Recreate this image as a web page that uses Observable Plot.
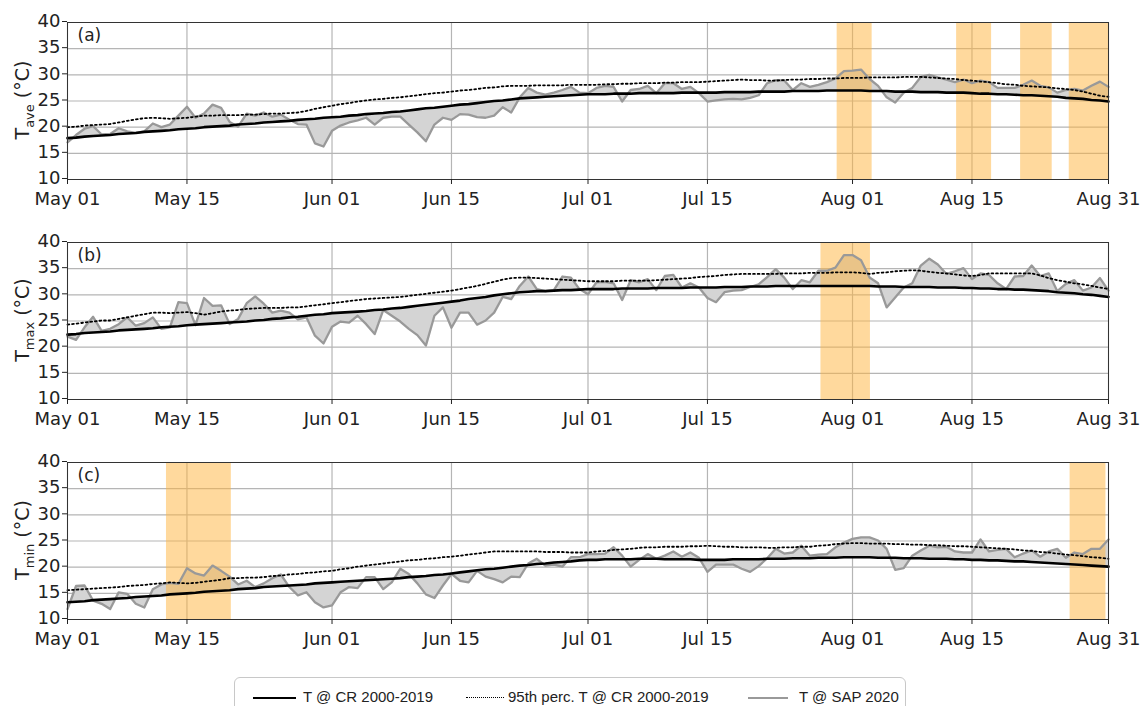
<!DOCTYPE html>
<html><head><meta charset="utf-8">
<script src="https://cdn.jsdelivr.net/npm/d3@7"></script>
<script src="https://cdn.jsdelivr.net/npm/@observablehq/plot@0.6"></script>
<style>
html,body{margin:0;padding:0;background:#fff;}
#wrap{position:relative;width:1144px;height:706px;overflow:hidden;}
#chart svg{display:block;}
.legend{position:absolute;left:234px;top:677px;width:672px;height:40px;border:1px solid #c8c8c8;border-radius:6px;box-sizing:border-box;font-family:"Liberation Sans",Arial,sans-serif;font-size:15px;color:#222;}
.legend .sw{position:absolute;top:19px;height:0;}
.legend .tx{position:absolute;top:10px;white-space:nowrap;}
</style></head><body>
<div id="wrap"><div id="chart"></div>
<div class="legend" id="legend"></div></div>
<script>
// ---------- data (daily, 2020-05-01 .. 2020-08-31) ----------
const startDate = "2020-05-01";
const xTickLabels = ["May 01","May 15","Jun 01","Jun 15","Jul 01","Jul 15","Aug 01","Aug 15","Aug 31"];
const xTickDates = ["2020-05-01","2020-05-15","2020-06-01","2020-06-15","2020-07-01","2020-07-15","2020-08-01","2020-08-15","2020-08-31"];
const yTicks = [10,15,20,25,30,35,40];
const panelLabels = ["(a)","(b)","(c)"];
const ySubscripts = ["ave","max","min"];
const legendLabels = ["T @ CR 2000-2019","95th perc. T @ CR 2000-2019","T @ SAP 2020"];

// (a) T ave
const aveObs = [
 17.1,18.5,19.7,20.2,18.6,18.7,19.8,19.2,18.9,19.2,
 20.7,20.0,20.5,22.2,23.9,21.8,22.6,24.3,23.7,21.0,
 20.1,22.6,22.2,22.8,22.0,22.4,21.4,20.6,20.5,16.9,
 16.3,19.3,20.3,20.9,21.3,21.8,20.5,21.8,22.0,22.0,
 20.5,19.0,17.3,20.5,21.8,21.4,22.5,22.4,21.9,21.8,
 22.2,23.8,22.8,25.7,27.5,26.6,26.2,26.6,27.1,27.7,
 26.6,26.5,27.5,27.9,27.7,24.9,27.1,27.3,27.9,26.5,
 28.4,28.4,27.3,27.7,26.5,24.9,25.1,25.3,25.4,25.3,
 25.6,26.1,28.4,29.0,28.9,27.1,28.4,27.7,28.1,28.6,
 29.3,30.7,30.8,31.0,29.2,27.9,25.7,24.7,26.6,27.5,
 29.6,30.0,29.5,29.1,28.6,29.1,28.4,28.9,28.6,27.5,
 27.5,27.5,28.1,28.9,27.9,27.6,26.6,27.1,27.3,27.0,
 27.9,28.7,27.7];
const aveClim = [
 17.9,18.0,18.2,18.3,18.4,18.5,18.7,18.8,18.9,19.1,19.2,19.3,19.4,19.6,19.7,
 19.8,20.0,20.1,20.2,20.3,20.5,20.6,20.7,20.9,21.0,21.1,21.2,21.4,21.5,21.6,21.8,21.9,
 22.0,22.2,22.3,22.5,22.6,22.7,22.9,23.0,
 23.2,23.4,23.6,23.7,23.9,24.1,
 24.3,24.4,24.6,24.8,25.0,25.1,25.3,25.5,
 25.6,25.7,25.8,25.9,26.0,26.1,26.2,26.3,
 26.3,26.3,26.4,26.4,26.4,26.5,26.5,26.5,26.5,26.5,26.6,26.6,26.6,26.6,
 26.6,26.7,26.7,26.7,26.7,26.8,26.8,26.8,26.8,26.9,26.9,26.9,26.9,27.0,27.0,27.0,27.0,
 27.0,26.9,26.9,26.9,26.8,26.8,26.8,26.7,26.7,26.7,26.6,26.6,26.6,26.5,
 26.4,26.4,26.3,26.3,26.2,26.1,26.1,26.0,
 25.9,25.8,25.6,25.5,25.4,25.2,25.1,24.9];
const aveP95 = [
 20.0,20.1,20.3,20.4,20.5,20.6,20.9,21.2,21.5,21.7,
 21.8,21.7,21.6,21.7,21.8,22.0,22.2,22.2,22.3,22.3,
 22.3,22.4,22.4,22.5,22.6,22.6,22.7,22.8,23.1,23.5,
 23.8,24.1,24.4,24.6,24.9,25.1,25.3,25.4,25.6,25.7,
 25.9,26.1,26.3,26.5,26.6,26.8,27.0,27.1,27.3,27.5,
 27.6,27.8,27.9,27.9,27.9,28.0,28.0,28.0,28.0,28.1,
 28.1,28.1,28.1,28.2,28.2,28.3,28.3,28.4,28.4,28.4,
 28.5,28.5,28.6,28.6,28.6,28.7,28.8,28.9,29.0,29.1,
 29.0,29.0,28.9,28.9,29.0,29.1,29.1,29.2,29.2,29.3,
 29.3,29.4,29.4,29.4,29.5,29.5,29.5,29.5,29.6,29.6,
 29.6,29.5,29.4,29.3,29.2,29.0,28.9,28.7,28.6,28.4,
 28.2,28.1,27.9,27.8,27.7,27.6,27.4,27.3,27.1,26.8,
 26.4,26.0,25.8];
const aveHeatwaves = [[90.2,94.3],[104.2,108.3],[111.7,115.4],[117.4,122]];

// (b) T max
const maxObs = [
 22.0,21.4,23.8,25.8,23.1,23.5,24.4,25.7,24.1,24.6,
 25.7,23.5,23.8,28.6,28.4,24.2,29.4,27.9,28.0,24.4,
 25.4,28.4,29.7,28.3,26.6,27.0,26.6,25.3,25.7,22.2,
 20.7,23.9,24.9,24.7,26.0,24.4,22.5,27.1,26.0,24.9,
 23.5,22.3,20.3,26.0,27.6,23.7,26.6,26.6,24.3,25.1,
 26.6,29.6,29.2,31.7,33.5,31.1,30.7,30.9,33.5,33.3,
 31.1,30.1,32.4,32.5,32.2,29.0,32.8,32.4,33.0,30.9,
 33.6,33.8,31.4,32.2,31.4,29.4,28.6,30.5,30.8,30.9,
 31.5,32.0,33.4,34.9,33.3,31.1,32.8,32.4,34.6,34.6,
 35.2,37.6,37.6,36.6,33.3,32.2,27.6,29.5,31.4,32.2,
 35.6,36.9,35.8,34.0,34.5,35.1,33.0,34.1,33.8,32.2,
 31.1,33.5,33.6,35.6,33.6,34.1,30.7,32.1,32.8,30.8,
 31.4,33.2,30.8];
const maxClim = [
 22.4,22.5,22.7,22.8,22.9,23.0,23.2,23.3,23.4,23.5,23.6,23.8,23.9,24.0,24.2,
 24.3,24.4,24.5,24.6,24.7,24.8,24.9,25.1,25.2,
 25.4,25.5,25.7,25.8,26.0,26.2,26.3,26.5,
 26.6,26.7,26.8,26.9,27.1,27.2,27.4,27.5,
 27.7,27.9,28.1,28.3,28.5,28.7,
 28.9,29.2,29.4,29.6,29.9,30.1,30.3,30.5,
 30.6,30.7,30.7,30.8,30.9,30.9,31.0,31.1,
 31.1,31.1,31.1,31.2,31.2,31.2,31.2,31.3,31.3,31.3,31.3,31.4,31.4,31.4,
 31.4,31.5,31.5,31.5,31.6,31.6,31.6,31.7,31.7,31.7,31.7,31.7,31.7,31.7,31.7,31.7,31.7,
 31.7,31.7,31.6,31.6,31.6,31.5,31.5,31.5,31.5,31.4,31.4,31.4,31.3,31.3,
 31.2,31.2,31.1,31.1,31.0,31.0,30.9,30.8,
 30.7,30.5,30.4,30.3,30.1,30.0,29.8,29.6];
const maxP95 = [
 24.3,24.5,24.7,24.9,25.1,25.1,25.4,25.7,26.0,26.3,
 26.6,26.6,26.5,26.6,26.7,26.5,26.2,26.5,26.8,27.0,
 27.1,27.3,27.4,27.5,27.5,27.5,27.6,27.6,27.8,28.0,
 28.2,28.4,28.6,28.8,29.0,29.2,29.3,29.4,29.5,29.6,
 29.8,30.0,30.2,30.4,30.6,30.8,31.1,31.4,31.7,32.1,
 32.5,32.9,33.2,33.3,33.3,33.2,33.1,33.0,32.9,32.8,
 32.7,32.6,32.6,32.6,32.6,32.7,32.7,32.7,32.7,32.8,
 32.9,33.0,33.1,33.2,33.4,33.5,33.6,33.8,33.9,34.0,
 34.0,34.0,34.0,34.0,34.1,34.1,34.1,34.2,34.2,34.2,
 34.3,34.3,34.3,34.2,34.0,34.2,34.3,34.5,34.6,34.7,
 34.6,34.4,34.2,34.1,33.9,33.7,33.6,33.8,34.1,34.1,
 34.1,34.1,34.1,34.1,33.7,33.2,32.8,32.5,32.2,32.0,
 31.7,31.4,31.1];
const maxHeatwaves = [[88.3,94.1]];

// (c) T min
const minObs = [
 12.0,16.4,16.5,13.6,13.0,12.0,15.2,14.9,13.0,12.3,
 15.8,16.7,17.0,16.8,19.8,18.8,18.4,20.3,19.3,18.2,
 16.7,17.4,16.2,16.9,17.9,18.6,16.2,14.6,15.2,13.3,
 12.3,12.7,15.2,16.2,16.0,18.1,18.1,15.8,17.1,19.7,
 18.7,16.9,14.8,14.1,16.5,18.7,17.4,17.1,19.3,18.2,
 17.7,17.1,18.2,18.1,20.7,21.6,20.3,20.5,20.1,21.9,
 21.9,22.5,22.5,22.6,23.8,22.2,20.1,21.4,22.5,21.6,
 22.2,23.0,22.0,22.8,21.8,19.1,20.5,20.5,20.5,19.7,
 19.1,20.2,21.7,23.5,22.6,22.8,24.1,22.2,22.4,22.5,
 23.8,24.7,25.4,25.7,25.7,25.1,23.5,19.5,19.8,22.2,
 23.2,24.1,23.8,23.9,23.0,22.8,22.8,25.3,23.0,23.3,
 23.5,21.9,22.6,23.2,22.0,23.0,23.5,21.8,22.8,22.5,
 23.5,23.5,25.3];
const minClim = [
 13.3,13.4,13.5,13.7,13.8,13.9,14.0,14.1,14.3,14.4,14.5,14.6,14.8,14.9,15.0,
 15.1,15.3,15.4,15.5,15.6,15.8,15.9,16.0,16.2,
 16.3,16.4,16.5,16.6,16.7,16.9,17.0,17.1,
 17.2,17.3,17.4,17.5,17.6,17.7,17.8,17.9,
 18.1,18.2,18.3,18.5,18.6,18.8,
 19.0,19.2,19.4,19.6,19.7,19.9,20.1,20.3,
 20.4,20.6,20.7,20.9,21.0,21.1,21.3,21.4,
 21.4,21.5,21.5,21.5,21.5,21.6,21.6,21.6,21.5,21.5,21.5,21.5,21.4,21.4,
 21.4,21.4,21.5,21.5,21.5,21.5,21.6,21.6,21.6,21.7,21.7,21.7,21.8,21.8,21.8,21.9,21.9,
 21.9,21.9,21.8,21.8,21.8,21.7,21.7,21.7,21.6,21.6,21.6,21.5,21.5,21.4,
 21.4,21.3,21.3,21.2,21.1,21.1,21.0,20.9,
 20.8,20.7,20.6,20.5,20.4,20.3,20.2,20.1];
const minP95 = [
 15.6,15.7,15.8,15.9,16.0,16.1,16.2,16.4,16.5,16.6,
 16.8,16.9,17.1,17.0,16.9,17.0,17.2,17.4,17.6,17.9,
 17.9,18.0,18.0,18.1,18.3,18.4,18.6,18.7,18.9,19.0,
 19.2,19.3,19.6,19.8,20.1,20.3,20.5,20.7,20.9,21.1,
 21.3,21.4,21.6,21.7,21.9,22.0,22.2,22.4,22.6,22.8,
 23.0,23.0,23.0,23.0,23.0,23.0,22.9,22.9,22.9,22.8,
 22.8,22.8,23.0,23.1,23.3,23.4,23.5,23.7,23.8,23.8,
 23.9,23.9,23.9,24.0,24.0,24.1,24.0,23.9,23.9,23.8,
 23.8,23.8,23.7,23.7,23.8,23.8,23.9,23.9,24.1,24.2,
 24.4,24.5,24.6,24.6,24.5,24.5,24.5,24.4,24.4,24.3,
 24.3,24.2,24.2,24.1,24.0,24.0,23.9,23.8,23.7,23.6,
 23.5,23.4,23.2,23.1,22.9,22.8,22.6,22.4,22.3,22.1,
 21.9,21.8,21.6];
const minHeatwaves = [[11.6,19.2],[117.5,121.7]];

// ---------- helpers ----------
const DAY = 864e5;
const t0 = new Date(startDate + "T00:00:00Z").getTime();
const dayToDate = d => new Date(t0 + d * DAY);
const dates = d3.range(aveObs.length).map(dayToDate);
const tickDates = xTickDates.map(s => new Date(s + "T00:00:00Z"));
const tickLabel = new Map(tickDates.map((d, i) => [+d, xTickLabels[i]]));

[aveObs,aveClim,aveP95,maxObs,maxClim,maxP95,minObs,minClim,minP95].forEach((a,i)=>{
  if (a.length !== 123) console.error("array", i, "has length", a.length);
});

const colGrid = "#b5b5b5";
const colFill = "#d4d4d4";
const colObs = "#999999";
const colBand = "#ffb43c";

function panel(obs, clim, p95, bands, label, sub) {
  const rows = dates.map((d, i) => ({date: d, obs: obs[i], clim: clim[i], p95: p95[i]}));
  const bandRows = bands.map(([s, e]) => ({x1: dayToDate(s), x2: dayToDate(e), lo: 10, hi: 40}));
  const svg = Plot.plot({
    width: 1144, height: 220,
    marginTop: 22, marginBottom: 41, marginLeft: 67, marginRight: 36,
    style: {fontFamily: "'DejaVu Sans', sans-serif", fontSize: "18px", color: "#222", background: "#fff", overflow: "visible"},
    x: {type: "utc", domain: [dates[0], dates[dates.length - 1]]},
    y: {domain: [10, 40]},
    marks: [
      Plot.gridX(tickDates, {stroke: colGrid, strokeOpacity: 1, strokeWidth: 1.2}),
      Plot.gridY(yTicks, {stroke: colGrid, strokeOpacity: 1, strokeWidth: 1.2}),
      Plot.areaY(rows, {x: "date", y1: "clim", y2: "obs", fill: colFill}),
      Plot.rect(bandRows, {x1: "x1", x2: "x2", y1: "lo", y2: "hi", fill: colBand, fillOpacity: 0.5}),
      Plot.lineY(rows, {x: "date", y: "obs", stroke: colObs, strokeWidth: 2.3}),
      Plot.lineY(rows, {x: "date", y: "clim", stroke: "#000", strokeWidth: 2.6}),
      Plot.lineY(rows, {x: "date", y: "p95", stroke: "#000", strokeWidth: 1.8, strokeDasharray: "1.8,2.8"}),
      Plot.frame({stroke: "#333", strokeWidth: 1}),
      Plot.axisX({ticks: tickDates, tickFormat: d => tickLabel.get(+d), tickSize: 5, tickPadding: 8, label: null, fontSize: 18}),
      Plot.axisY({ticks: yTicks, tickSize: 5, tickPadding: 2, label: null, fontSize: 18, dy: -1}),
      Plot.text([label], {text: d => d, frameAnchor: "top-left", dx: 10, dy: 6, fontSize: 17, fill: "#222", textAnchor: "start", lineAnchor: "top"})
    ]
  });
  const s = d3.select(svg);
  const t = s.append("text")
    .attr("transform", "translate(29,100) rotate(-90)")
    .attr("text-anchor", "middle")
    .attr("font-family", "'DejaVu Sans', sans-serif")
    .attr("font-size", 19)
    .attr("fill", "#222");
  t.append("tspan").text("T");
  t.append("tspan").attr("font-size", 13).attr("dy", 5).text(sub);
  t.append("tspan").attr("dy", -5).text(" (°C)");
  return svg;
}

const chart = document.getElementById("chart");
chart.append(panel(aveObs, aveClim, aveP95, aveHeatwaves, panelLabels[0], ySubscripts[0]));
chart.append(panel(maxObs, maxClim, maxP95, maxHeatwaves, panelLabels[1], ySubscripts[1]));
chart.append(panel(minObs, minClim, minP95, minHeatwaves, panelLabels[2], ySubscripts[2]));

// ---------- legend ----------
const legend = document.getElementById("legend");
const items = [
  {sw: 18, swW: 43, tx: 68, style: "border-top:2.5px solid #000"},
  {sw: 231, swW: 38, tx: 273, style: "border-top:1.8px dotted #000"},
  {sw: 513, swW: 40, tx: 564, style: "border-top:2px solid #999"}
];
items.forEach((it, i) => {
  const sw = document.createElement("div");
  sw.className = "sw"; sw.style.cssText = `left:${it.sw}px;width:${it.swW}px;${it.style}`;
  const tx = document.createElement("div");
  tx.className = "tx"; tx.style.left = it.tx + "px"; tx.textContent = legendLabels[i];
  legend.append(sw, tx);
});
</script></body></html>
